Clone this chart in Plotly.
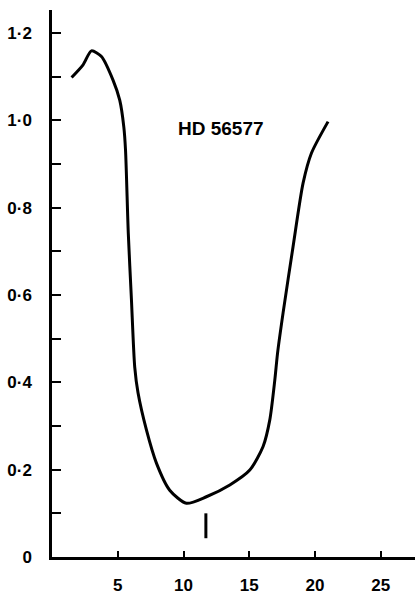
import plotly.graph_objects as go

# Profile of HD 56577: wavelength offset vs relative intensity
x_vals = [1.49, 2.36, 3.00, 3.76, 4.64, 5.15, 5.46, 5.59, 5.80, 6.04, 6.29, 6.54,
          7.18, 7.94, 8.95, 10.22, 11.74, 13.52, 15.04, 16.05, 16.56, 16.94, 17.15,
          17.57, 18.33, 19.09, 19.73, 20.99]
y_vals = [1.098, 1.127, 1.159, 1.146, 1.092, 1.046, 0.985, 0.932, 0.742, 0.589, 0.435, 0.376,
          0.291, 0.215, 0.153, 0.123, 0.138, 0.165, 0.199, 0.253, 0.314, 0.405, 0.467,
          0.559, 0.711, 0.856, 0.925, 0.997]

# Short vertical marker below the minimum
marker_x = [11.7, 11.7]
marker_y = [0.043, 0.10]

x_ticks = [5, 10, 15, 20, 25]
x_tick_labels = ["5", "10", "15", "20", "25"]
y_ticks = [0, 0.2, 0.4, 0.6, 0.8, 1.0, 1.2]
y_tick_labels = ["0", "0·2", "0·4", "0·6", "0·8", "1·0", "1·2"]

star_label = "HD 56577"

font_family = "Liberation Sans, Arial, sans-serif"

fig = go.Figure()
fig.add_trace(go.Scatter(
    x=x_vals, y=y_vals, mode="lines",
    line=dict(color="black", width=3, shape="spline", smoothing=0.7),
    hoverinfo="skip", showlegend=False,
))
fig.add_trace(go.Scatter(
    x=marker_x, y=marker_y, mode="lines",
    line=dict(color="black", width=3),
    hoverinfo="skip", showlegend=False,
))

fig.add_annotation(
    x=12.83, y=0.982, text=star_label, showarrow=False,
    font=dict(family=font_family, size=19, color="black", weight="bold"),
    xanchor="center", yanchor="middle",
)

fig.update_layout(
    width=415, height=596,
    margin=dict(l=52, r=0, t=10, b=39),
    plot_bgcolor="white", paper_bgcolor="white",
    showlegend=False,
)

fig.update_xaxes(
    range=[0, 27.6], showgrid=False, zeroline=False,
    showline=True, linecolor="black", linewidth=2.5,
    tickmode="array", tickvals=x_ticks, ticktext=x_tick_labels,
    ticks="inside", ticklen=6, tickwidth=2, tickcolor="black",
    ticklabelstandoff=11,
    tickfont=dict(family=font_family, size=17, color="black", weight="bold"),
)
fig.update_yaxes(
    range=[0, 1.2526], showgrid=False, zeroline=False,
    showline=True, linecolor="black", linewidth=2.5,
    tickmode="array", tickvals=y_ticks, ticktext=y_tick_labels,
    ticks="inside", ticklen=9, tickwidth=2, tickcolor="black",
    ticklabelstandoff=14,
    minor=dict(dtick=0.1, tick0=0, ticks="inside", ticklen=9, tickwidth=2, tickcolor="black", showgrid=False),
    tickfont=dict(family=font_family, size=17, color="black", weight="bold"),
)

fig.write_html("out.html")
